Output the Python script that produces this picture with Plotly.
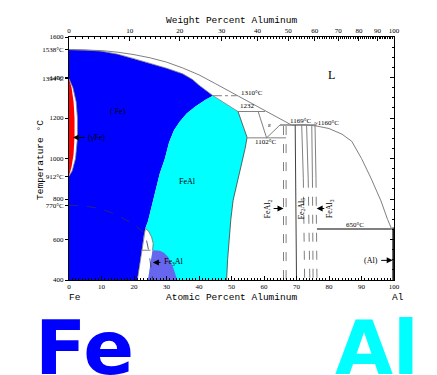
import plotly.graph_objects as go

# ---------------- data (at.% Al, temperature °C) ----------------
liq_at = [0, 5, 10, 15, 20, 25, 30, 35, 40, 45, 50, 55, 60, 65, 68.5, 72, 76, 80, 84, 87, 90, 93, 96, 98, 99.2, 100]
liq_T = [1538, 1537, 1533, 1525, 1513, 1497, 1476, 1447, 1413, 1370, 1326, 1281, 1237, 1193, 1165, 1167, 1161, 1148, 1120, 1085, 1000, 900, 790, 700, 655, 660]

sol_at = [0, 5, 10, 15, 20, 25, 30, 35, 38, 40, 42, 44.3]
sol_T = [1538, 1536, 1530, 1515, 1493, 1470, 1446, 1418, 1390, 1362, 1338, 1310]

b2_at = [44.3, 42, 39, 36.2, 34, 32.3, 30.8, 29.5, 27.9, 26.6, 25.4, 24.3, 23.5]
b2_T = [1310, 1290, 1258, 1222, 1180, 1140, 1080, 1000, 925, 840, 760, 690, 655]

b2r_at = [52, 53.6, 54.8, 54.2, 53.6, 52.6, 51.6, 50.5, 49.8, 49.2, 48.8, 48.5]
b2r_T = [1232, 1156, 1104, 1050, 1007, 940, 876, 794, 700, 600, 500, 400]

gap_left_at = [21.0, 21.8, 22.5, 23.0, 23.5]
gap_left_T = [400, 480, 560, 620, 655]
gap_right_at = [23.5, 24.5, 25.4, 25.9, 25.7, 24.3]
gap_right_T = [655, 640, 612, 580, 547, 400]

fe3al_at = [24.3, 25.7, 27.9, 29.2, 30.5, 32.0, 33.3]
fe3al_T = [400, 547, 545, 535, 514, 464, 400]

gam_in_at = [0, 0.8, 1.4, 1.7, 1.7, 1.4, 0.8, 0]
gam_in_T = [1394, 1350, 1280, 1200, 1110, 1020, 960, 912]
gam_out_at = [0, 1.2, 2.2, 2.6, 2.6, 2.0, 1.0, 0]
gam_out_T = [1394, 1350, 1280, 1200, 1100, 1000, 940, 912]

curie_at = [0, 5, 9.5, 12.5, 16, 19.7, 22.8, 23.8, 24.5, 25.8]
curie_T = [770, 765, 753, 736, 710, 678, 637, 600, 547, 400]

eps_at = [58.2, 60.8, 64.9]
eps_T = [1232, 1102, 1165]

# intermetallic phase boundaries: (top at, mid at, bottom at)
inter_top = [71.6, 73.1, 74.7, 75.7]
inter_mid = [72.1, 73.6, 74.9, 76.0]
inter_bot = [72.5, 74.1, 75.1, 76.3]

wt_ticks = [0, 10, 20, 30, 40, 50, 60, 70, 80, 90, 100]
at_ticks = [0, 10, 20, 30, 40, 50, 60, 70, 80, 90, 100]
T_ticks = [400, 600, 770, 800, 912, 1000, 1200, 1394, 1400, 1538, 1600]
T_text = ["400", "600", "770°C", "800", "912°C", "1000", "1200", "1394°C", "1400", "1538°C", "1600"]

M_AL, M_FE = 26.98, 55.845


def wt_to_at(w):
    a = w / M_AL
    f = (100 - w) / M_FE
    return 100 * a / (a + f) if (a + f) > 0 else 0


BLUE = "#0000FF"
CYAN = "#00FFFF"
RED = "#FF0000"
PURP = "#6666EE"
GREY = "#808080"
FONT = "Liberation Serif"
MONO = "Liberation Mono"

fig = go.Figure()


def poly(xs, ys, color, line_color=None):
    fig.add_trace(go.Scatter(x=xs, y=ys, fill="toself", fillcolor=color, mode="lines",
                             line=dict(color=line_color or color, width=0.8 if line_color else 0),
                             hoverinfo="skip", showlegend=False))


def line(xs, ys, color=GREY, width=1, dash="solid"):
    fig.add_trace(go.Scatter(x=xs, y=ys, mode="lines", line=dict(color=color, width=width, dash=dash),
                             hoverinfo="skip", showlegend=False))


# blue (alpha Fe)
bx = [0, 0] + sol_at + b2_at[1:] + gap_left_at[::-1][1:]
by = [400, 1538] + sol_T + b2_T[1:] + gap_left_T[::-1][1:]
poly(bx, by, BLUE)

# cyan (FeAl)
cx = b2_at + gap_right_at[1:] + fe3al_at[::-1] + b2r_at[::-1] + [44.3]
cy = b2_T + gap_right_T[1:] + fe3al_T[::-1] + b2r_T[::-1] + [1310]
poly(cx, cy, CYAN)

# two-phase gap and Fe3Al
poly(gap_left_at + gap_right_at[1:], gap_left_T + gap_right_T[1:], "white")
poly(fe3al_at, fe3al_T, PURP)

# gamma loop
poly(gam_out_at, gam_out_T, "white", GREY)
poly(gam_in_at, gam_in_T, RED)

# lines
line(liq_at, liq_T)
line(sol_at, sol_T, GREY, 0.8)
line([44.3, 52], [1310, 1232], GREY, 0.8)
line(b2r_at, b2r_T, "#404040", 0.8)
line(gap_left_at, gap_left_T, "#404040", 0.6)
line(gap_right_at[:5], gap_right_T[:5], "#404040", 0.6)
line([44.3, 51.6], [1310, 1310], GREY, 1, "dashdot")
line([52, 60.3], [1232, 1232], GREY, 1)
line(eps_at, eps_T, GREY, 1)
line([54.8, 66.8], [1102, 1102], GREY, 1)
line([64.9, 76.2], [1165, 1165], GREY, 1.5)
line([66.0, 66.0], [1160, 400], GREY, 1, "dash")
line([66.8, 66.8], [1160, 400], GREY, 1, "dash")
line([69.6, 70.0], [1165, 400], "#404040", 1)
for t, m, b in zip(inter_top, inter_mid, inter_bot):
    line([t, m], [1165, 900], GREY, 1)
    line([m, b], [900, 400], GREY, 1, "dash")
line([76.3, 99.3], [652, 652], GREY, 2)
line([99.8, 99.8], [655, 400], "#202020", 2)
line(curie_at, curie_T, "#303060", 0.8, "dash")
line([22.3, 25.9], [547, 547], GREY, 1, "dashdot")

# dummy trace for secondary axes
fig.add_trace(go.Scatter(x=[None], y=[None], xaxis="x2", yaxis="y2", showlegend=False))

ann = []


def txt(px, py, s, size=7, **kw):
    d = dict(x=px, y=py, text=s, showarrow=False, xanchor="center", yanchor="middle",
             font=dict(family=FONT, size=size, color="black"))
    d.update(kw)
    ann.append(d)


def arrow(px, py, ax, ay):
    ann.append(dict(x=px, y=py, ax=ax, ay=ay, axref="x", ayref="y", text="", showarrow=True,
                    arrowhead=2, arrowsize=1.2, arrowwidth=1, arrowcolor="black"))


txt(80.9, 1411, "L", 12)
txt(15.2, 1233, "( Fe)", 8)
txt(5.3, 1104, "(γFe)", 8, xanchor="left")
arrow(1.2, 1104, 5.3, 1104)
txt(36.6, 888, "FeAl", 8)
txt(28.6, 487, "Fe<sub>3</sub>Al", 8, xanchor="left")
arrow(25.8, 487, 28.6, 487)
txt(61.2, 753, "FeAl<sub>2</sub>", 8, textangle=-90)
arrow(66.0, 753, 62.5, 753)
txt(71.4, 753, "Fe<sub>2</sub>Al<sub>5</sub>", 8, textangle=-90)
txt(80.2, 753, "FeAl<sub>3</sub>", 8, textangle=-90)
arrow(76.2, 753, 79.0, 753)
txt(88, 672, "650°C", 7)
txt(101.2, 660, "660.", 7, xanchor="left")
txt(92.9, 497, "(Al)", 8)
arrow(99.6, 497, 95.6, 497)
txt(52.2, 1322, "1310°C", 7, xanchor="left")
txt(52.0, 1258, "1232", 7, xanchor="left")
txt(60.7, 1082, "1102°C", 7)
txt(71.4, 1184, "1169°C", 7)
txt(79.2, 1176, "~1160°C", 7)
txt(61.6, 1164, "ε", 7)

mono = dict(family=MONO, size=9.5, color="black")
txt(0.5, 1.069, "Weight Percent Aluminum", xref="paper", yref="paper", font=mono)
txt(0.5, -0.074, "Atomic Percent Aluminum", xref="paper", yref="paper", font=mono)
txt(0.018, -0.074, "Fe", xref="paper", yref="paper", font=mono)
txt(1.012, -0.074, "Al", xref="paper", yref="paper", font=mono)
txt(-0.09, 0.493, "Temperature °C", xref="paper", yref="paper", textangle=-90, font=mono)
txt(0.048, -0.09, "Fe", xref="paper", yref="paper", yanchor="top",
    font=dict(family="DejaVu Sans", size=75, color=BLUE, weight="bold"))
txt(0.947, -0.09, "Al", xref="paper", yref="paper", yanchor="top",
    font=dict(family="DejaVu Sans", size=75, color=CYAN, weight="bold"))

wt_pos = [wt_to_at(w) for w in wt_ticks]
wt_minor = [wt_to_at(w) for w in range(0, 101)]

axis_common = dict(showgrid=False, zeroline=False, showline=True, linecolor="black", linewidth=1,
                   tickfont=dict(family=FONT, size=7, color="black"), tickcolor="black")

fig.update_layout(
    width=437, height=375, margin=dict(l=69, r=43, t=37, b=95),
    paper_bgcolor="white", plot_bgcolor="white", showlegend=False,
    annotations=ann,
    xaxis=dict(axis_common, range=[0, 100], tickmode="array", tickvals=at_ticks, ticks="inside", ticklen=4,
               minor=dict(ticks="inside", ticklen=2, dtick=1, tickcolor="black")),
    xaxis2=dict(axis_common, range=[0, 100], overlaying="x", side="top", anchor="y", tickmode="array",
                tickvals=wt_pos, ticktext=[str(w) for w in wt_ticks], ticks="inside", ticklen=4,
                minor=dict(ticks="inside", ticklen=2, tickmode="array", tickvals=wt_minor, tickcolor="black")),
    yaxis=dict(axis_common, range=[400, 1600], tickmode="array", tickvals=T_ticks, ticktext=T_text,
               ticks="outside", ticklen=3),
    yaxis2=dict(axis_common, range=[400, 1600], overlaying="y", side="right", anchor="x", tickmode="array",
                tickvals=[400, 600, 800, 1000, 1200, 1400, 1600], showticklabels=False, ticks="inside", ticklen=4,
                minor=dict(ticks="inside", ticklen=2, dtick=50, tickcolor="black")),
)

fig.write_html("out.html")
